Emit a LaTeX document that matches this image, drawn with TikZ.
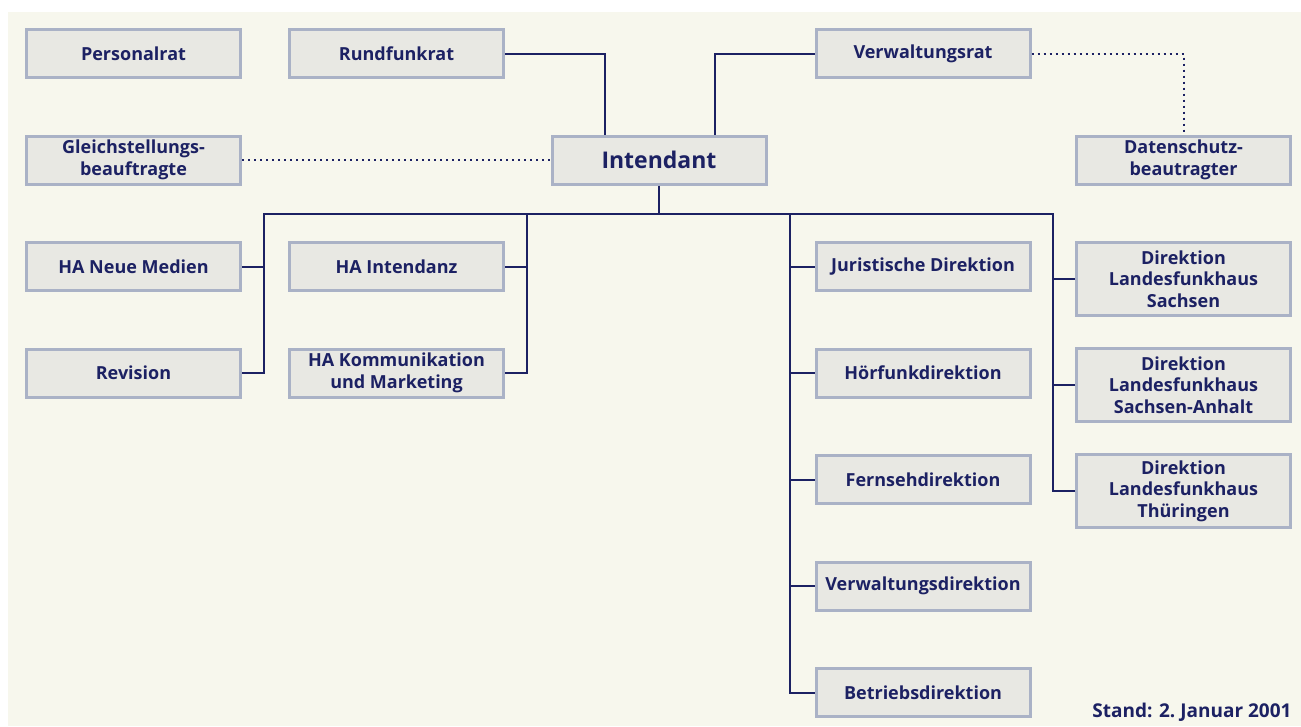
\documentclass[tikz,border=0pt]{standalone}
\usepackage{fontspec}
\setmainfont{Open Sans}
\usetikzlibrary{positioning}
\definecolor{navy}{HTML}{1C2163}
\definecolor{boxfill}{HTML}{E8E8E3}
\definecolor{boxline}{HTML}{AAB2C6}
\definecolor{cream}{HTML}{F7F7ED}

\begin{document}
\begin{tikzpicture}[x=1pt,y=-1pt,node distance=106.5pt,
    org node/.style={rectangle,draw=boxline,fill=boxfill,line width=3pt,
      minimum width=214pt,minimum height=48pt,inner sep=0pt,align=center,
      text=navy,font=\bfseries\fontsize{18}{21.5}\selectfont},
    tall node/.style={org node,minimum height=73pt,anchor=north},
    link/.style={draw=navy,line width=2pt},
    dotlink/.style={draw=navy,line width=2pt,dash pattern=on 2pt off 4pt}]

  \useasboundingbox (0,0) rectangle (1301,726);
  \fill[white] (0,0) rectangle (1301,726);
  \fill[cream] (8,12) rectangle (1301,726);

  \node[org node] (per) at (133.5,53.5) {Personalrat};
  \node[org node] (gst) [below of=per] {Gleichstellungs-\\beauftragte};
  \node[org node] (hanm) [below of=gst] {HA Neue Medien};
  \node[org node] (rev) [below of=hanm] {Revision};
  \node[org node] (rfr) at (396.5,53.5) {Rundfunkrat};
  \node[org node] (haint) [below of=rfr,node distance=213pt] {HA Intendanz};
  \node[org node] (hakm) [below of=haint] {HA Kommunikation\\und Marketing};
  \node[org node,font=\bfseries\fontsize{23}{27}\selectfont] (int) at (659,160) {Intendant};
  \node[org node] (vwr) at (923,53.5) {Verwaltungsrat};
  \node[org node] (jur) [below of=vwr,node distance=213pt] {Juristische Direktion};
  \node[org node] (hfd) [below of=jur] {Hörfunkdirektion};
  \node[org node] (fsd) [below of=hfd] {Fernsehdirektion};
  \node[org node] (vwd) [below of=fsd] {Verwaltungsdirektion};
  \node[org node] (btd) [below of=vwd] {Betriebsdirektion};
  \node[org node] (dsb) at (1183.5,160) {Datenschutz-\\beautragter};
  \node[tall node] (lsn) at (1183.5,241) {Direktion\\Landesfunkhaus\\Sachsen};
  \node[tall node] (lsa) at (1183.5,347) {Direktion\\Landesfunkhaus\\Sachsen-Anhalt};
  \node[tall node] (lth) at (1183.5,453) {Direktion\\Landesfunkhaus\\Thüringen};
  \node[anchor=base east,text=navy,font=\bfseries\fontsize{19}{22}\selectfont] (stand) at (1295,717) {Stand: 2.\ Januar 2001};

  \coordinate (bus) at ([yshift=-28pt]int.south);
  \draw[link] (int.south) -- (bus);
  \draw[link] (rfr.east) -| ([xshift=-54pt]int.north);
  \draw[link] (vwr.west) -| ([xshift=56pt]int.north);
  \draw[link] (rev.east) -- ++(22,0) |- (bus);
  \draw[link] (hanm.east) -- ++(22,0);
  \draw[link] (hakm.east) -- ++(22,0) |- (bus);
  \draw[link] (haint.east) -- ++(22,0);
  \draw[link] (btd.west) -- ++(-25,0) |- (bus);
  \foreach \n in {jur,hfd,fsd,vwd}
    \draw[link] (\n.west) -- ++(-25,0);
  \draw[link] (lth.west) -- ++(-22,0) |- (bus);
  \draw[link] (lsn.west) -- ++(-22,0);
  \draw[link] (lsa.west) -- ++(-22,0);
  \draw[dotlink] (gst.east) -- (int.west);
  \draw[dotlink] (vwr.east) -| (dsb.north);
\end{tikzpicture}
\end{document}
